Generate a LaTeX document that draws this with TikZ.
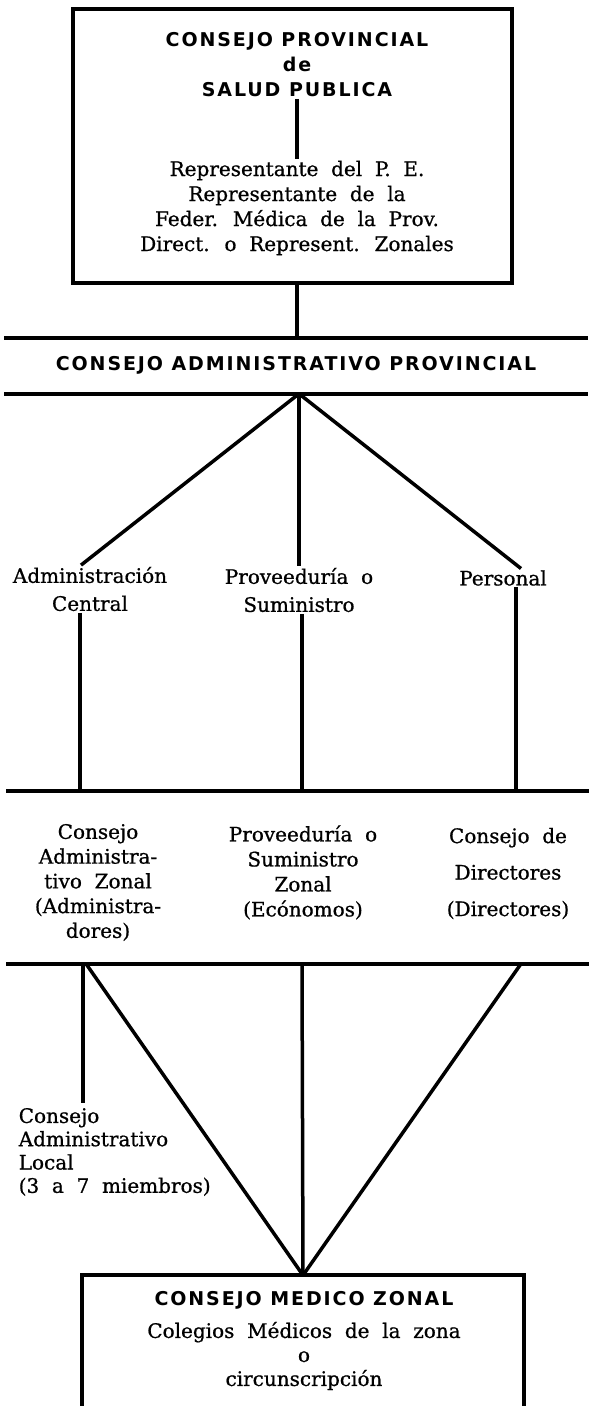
\documentclass[tikz,border=0pt]{standalone}
\usepackage{fontspec}
\setmainfont{DejaVu Serif}[WordSpace=2, FakeBold=0.8]
\newfontfamily\capsfont{DejaVu Sans}[LetterSpace=10]
\begin{document}
\begin{tikzpicture}[x=1pt, y=-1pt, line width=3.5pt,
  title node/.style={font=\capsfont\bfseries\fontsize{19}{25}\selectfont, align=center, inner sep=0pt},
  text node/.style={font=\fontsize{20}{25}\selectfont, align=center, inner sep=0pt},
  band/.style={minimum width=580pt, inner sep=0pt},
  rule/.style={line width=4pt}]
\useasboundingbox (0,0) rectangle (589,1406);
% consejo provincial
\node[draw, rule, minimum width=439pt, minimum height=274pt] (cp) at (292.5,146) {};
\node[title node] (cps) at (297,65) {CONSEJO PROVINCIAL\\de\\SALUD PUBLICA};
\node[text node] (mem) at (297,208) {Representante del P. E.\\Representante de la\\Feder. Médica de la Prov.\\Direct. o Represent. Zonales};
\draw (cps) edge (mem);
% consejo administrativo
\node[band, title node, minimum height=52pt, text depth=6pt] (cap) at (296,366) {CONSEJO ADMINISTRATIVO PROVINCIAL};
\draw[rule] (cap.north west) -- (cap.north east) (cap.south west) -- (cap.south east);
\draw (cp.south -| cps) edge (cap.north -| cps);
\node[text node, font=\fontsize{20}{28}\selectfont] (adm) at (90,589) {Administración\\Central};
\node[text node, font=\fontsize{20}{28}\selectfont] (pro) at (299,590) {Proveeduría o\\Suministro};
\node[text node] (per) at (503,578) {Personal};
\draw ([xshift=3pt]cap.south) edge ([xshift=-9pt]adm.north);
\draw ([xshift=3pt]cap.south) edge (pro.north);
\draw ([xshift=3pt]cap.south) edge ([xshift=18pt]per.north);
% zonal
\node[band, minimum width=581pt, minimum height=169pt] (zb) at (298.5,877.5) {};
\draw[rule] (zb.north west) -- (zb.north east) (zb.south west) -- (zb.south east);
\draw ([xshift=-10pt]adm.south) edge ([xshift=-10pt]adm.south |- zb.north);
\draw ([xshift=3pt]pro.south) edge ([xshift=3pt]pro.south |- zb.north);
\draw ([xshift=13pt]per.south) edge ([xshift=13pt]per.south |- zb.north);
\node[text node, font=\fontsize{20}{24.75}\selectfont] (caz) at (98,882.5) {Consejo\\Administra-\\tivo Zonal\\(Administra-\\dores)};
\node[text node] (psz) at (303,872.5) {Proveeduría o\\Suministro\\Zonal\\(Ecónomos)};
\node[text node, font=\fontsize{20}{36.5}\selectfont] (cdd) at (508,873.5) {Consejo de\\Directores\\(Directores)};
% local y medico
\node[text node, align=left, anchor=west, font=\fontsize{20}{23.3}\selectfont] (loc) at (17,1152) {Consejo\\Administrativo\\Local\\(3 a 7 miembros)};
\coordinate (l1) at (83,1103);
\draw (zb.south -| l1) edge (l1);
\node[inner sep=0pt, minimum width=438pt, minimum height=135pt] (cmz) at (303,1344.5) {};
\draw[rule] (cmz.south west) -- (cmz.north west) -- (cmz.north east) -- (cmz.south east);
\node[title node] (cmzt) at (304,1300) {CONSEJO MEDICO ZONAL};
\node[text node, font=\fontsize{20}{24}\selectfont] (cmzm) at (304,1356) {Colegios Médicos de la zona\\o\\circunscripción};
\draw ([xshift=-212.5pt]zb.south) edge (cmz.north);
\draw ([xshift=3.5pt]zb.south) edge (cmz.north);
\draw ([xshift=222.5pt]zb.south) edge (cmz.north);
\end{tikzpicture}
\end{document}
